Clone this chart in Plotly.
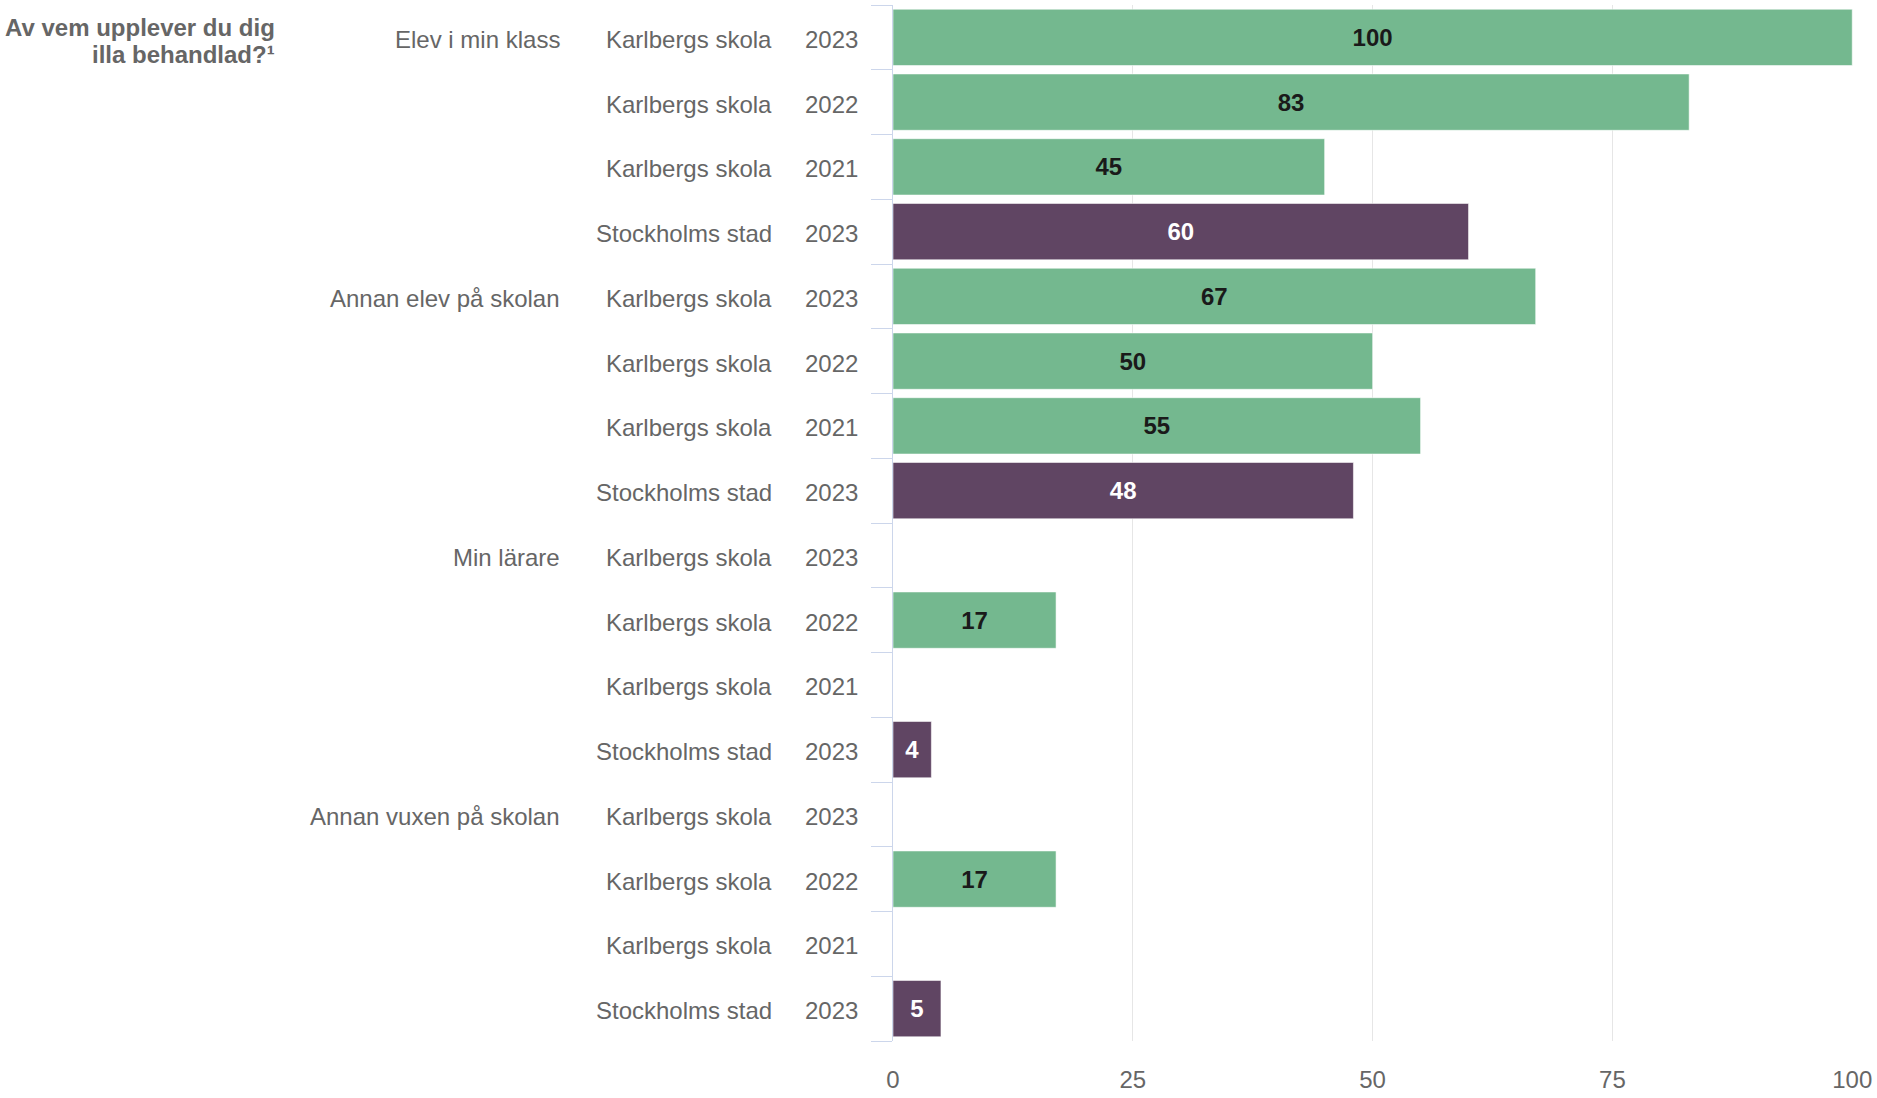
import plotly.graph_objects as go

# ---- data ----
groups = ["Elev i min klass", "Annan elev på skolan", "Min lärare", "Annan vuxen på skolan"]
units = ["Karlbergs skola", "Karlbergs skola", "Karlbergs skola", "Stockholms stad"]
years = ["2023", "2022", "2021", "2023"]
elev_i_min_klass = [100, 83, 45, 60]
annan_elev = [67, 50, 55, 48]
min_larare = [None, 17, None, 4]
annan_vuxen = [None, 17, None, 5]
group_values = [elev_i_min_klass, annan_elev, min_larare, annan_vuxen]
x_ticks = [0, 25, 50, 75, 100]
title_lines = ["Av vem upplever du dig", "illa behandlad?¹"]

GREEN = "#74b88f"
PURPLE = "#604563"
FONT = "Liberation Sans, Arial, Helvetica, sans-serif"
GREY = "#666666"

ys, xs, colors, tcolors = [], [], [], []
for gi, vals in enumerate(group_values):
    for ri, v in enumerate(vals):
        ys.append(gi * 4 + ri)
        xs.append(v)
        is_city = units[ri] == "Stockholms stad"
        colors.append(PURPLE if is_city else GREEN)
        tcolors.append("#ffffff" if is_city else "#1a1a1a")

n_rows = len(ys)

fig = go.Figure()
fig.add_trace(go.Bar(
    x=xs, y=ys, orientation="h", width=0.87,
    marker=dict(color=colors, line=dict(color="rgba(255,255,255,0.55)", width=1)),
    text=[("" if v is None else str(v)) for v in xs],
    textposition="inside", insidetextanchor="middle",
    textfont=dict(family=FONT, size=24, color=tcolors, weight="bold"),
    constraintext="none", cliponaxis=False, hoverinfo="skip",
))

annotations = []
for gi, g in enumerate(groups):
    for ri in range(4):
        row = gi * 4 + ri
        annotations.append(dict(x=0, y=row, xref="x", yref="y", text=years[ri],
                                xanchor="right", yanchor="middle", xshift=-33, yshift=-2,
                                showarrow=False, font=dict(family=FONT, size=24, color=GREY)))
        annotations.append(dict(x=0, y=row, xref="x", yref="y", text=units[ri],
                                xanchor="right", yanchor="middle", xshift=-119, yshift=-2,
                                showarrow=False, font=dict(family=FONT, size=24, color=GREY)))
    annotations.append(dict(x=0, y=gi * 4, xref="x", yref="y", text=g,
                            xanchor="right", yanchor="middle", xshift=-331, yshift=-2,
                            showarrow=False, font=dict(family=FONT, size=24, color=GREY)))

for li, (line, py) in enumerate(zip(title_lines, [0.978, 0.952])):
    annotations.append(dict(x=0, y=py, xref="x", yref="paper", text="<b>" + line + "</b>",
                            xanchor="right", yanchor="middle", xshift=-616,
                            showarrow=False, font=dict(family=FONT, size=24, color=GREY)))

fig.update_layout(
    width=1877, height=1098,
    margin=dict(l=893, r=20, t=5, b=46, pad=0),
    paper_bgcolor="white", plot_bgcolor="white",
    showlegend=False, bargap=0.13,
    annotations=annotations,
    xaxis=dict(range=[0, 100.08], tickvals=x_ticks, ticktext=[str(t) for t in x_ticks],
               showgrid=True, gridcolor="#e6e6e6", gridwidth=1, zeroline=False,
               showline=False, ticks="outside", ticklen=17, tickcolor="rgba(0,0,0,0)",
               tickfont=dict(family=FONT, size=24, color=GREY), fixedrange=True),
    yaxis=dict(range=[n_rows - 0.5, -0.5], tickvals=[i - 0.5 for i in range(n_rows + 1)],
               showticklabels=False, ticks="outside", ticklen=21, tickcolor="#ccd6eb",
               tickwidth=1, showgrid=False, zeroline=False, showline=True,
               linecolor="#ccd6eb", linewidth=1, fixedrange=True),
)

fig.write_html("out.html", config={"displayModeBar": False},
               post_script="document.body.style.margin='0';document.body.style.overflow='hidden';")
